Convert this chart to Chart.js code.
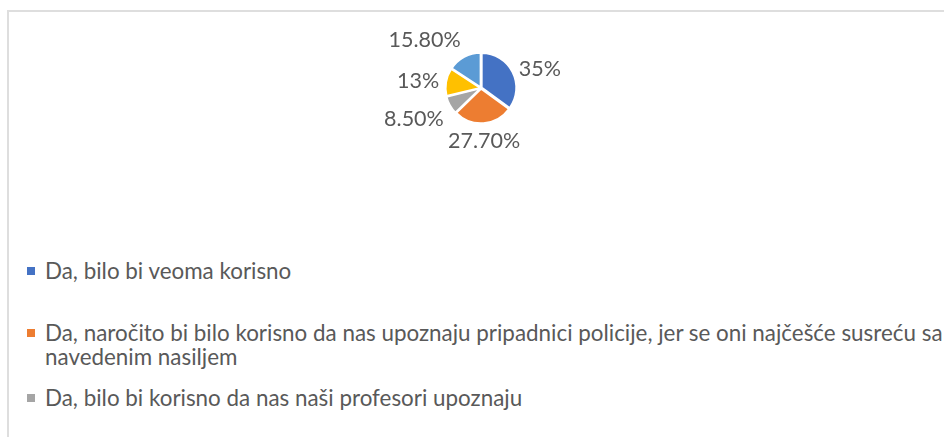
<!DOCTYPE html>
<html>
<head>
<meta charset="utf-8">
<script src="https://cdn.jsdelivr.net/npm/chart.js@4.4.1/dist/chart.umd.min.js"></script>
<style>
  html, body { margin: 0; padding: 0; background: #fff; width: 944px; height: 437px; overflow: hidden; }
  .frame { position: absolute; left: 7px; top: 10px; width: 1200px; height: 800px; border: 2px solid #dedede; box-sizing: border-box; }
  .chart-box { position: absolute; left: 0; top: 0; width: 944px; height: 200px; }
  #legend { position: absolute; left: 27px; top: 259px; margin: 0; padding: 0; list-style: none;
            font-family: Lato, "Noto Sans", sans-serif; font-size: 22.4px; line-height: 24px; color: #595959; }
  #legend li { position: relative; padding-left: 18px; white-space: nowrap; }
  #legend li:nth-child(2) { margin-top: 38px; }
  #legend li:nth-child(3) { margin-top: 17px; }
  #legend li:nth-child(4), #legend li:nth-child(5) { margin-top: 40px; }
  #legend .box { position: absolute; left: 0; top: 8px; width: 8px; height: 8px; }
</style>
</head>
<body>
<div class="frame"></div>
<div class="chart-box"><canvas id="pie"></canvas></div>
<ul id="legend"></ul>

<script>
const categories = [
  'Da, bilo bi veoma korisno',
  ['Da, naročito bi bilo korisno da nas upoznaju pripadnici policije, jer se oni najčešće susreću sa', 'navedenim nasiljem'],
  'Da, bilo bi korisno da nas naši profesori upoznaju',
  'Ne, ne bi bilo korisno',
  'Ne znam'
];
const values = [35, 27.7, 8.5, 13, 15.8];
const colors = ['#4472C4', '#ED7D31', '#A5A5A5', '#FFC000', '#5B9BD5'];

const labelFont = '21.5px Lato, "Noto Sans", sans-serif';

function fmtPct(v) {
  return Number.isInteger(v) ? v + '%' : v.toFixed(2) + '%';
}

// data labels outside each slice (Excel "best fit" look)
const outsideLabels = {
  id: 'outsideLabels',
  afterDatasetsDraw(chart) {
    const ctx = chart.ctx;
    const meta = chart.getDatasetMeta(0);
    ctx.save();
    ctx.font = labelFont;
    ctx.fillStyle = '#595959';
    meta.data.forEach((arc, i) => {
      const p = arc.getProps(['x', 'y', 'startAngle', 'endAngle', 'outerRadius'], true);
      const mid = (p.startAngle + p.endAngle) / 2;
      const ux = Math.cos(mid), uy = Math.sin(mid);
      const r = p.outerRadius + 3 + 5;
      const ax = p.x + ux * r, ay = p.y + uy * r;
      ctx.textAlign = ux > 0.3 ? 'left' : ux < -0.3 ? 'right' : 'center';
      ctx.textBaseline = uy > 0.3 ? 'top' : uy < -0.6 ? 'bottom' : 'middle';
      ctx.fillText(fmtPct(values[i]), ax, ay);
    });
    ctx.restore();
  }
};

new Chart(document.getElementById('pie'), {
  type: 'pie',
  data: {
    labels: categories,
    datasets: [{
      data: values,
      backgroundColor: colors,
      borderColor: '#ffffff',
      borderWidth: 2,
      offset: 3
    }]
  },
  options: {
    responsive: true,
    maintainAspectRatio: false,
    animation: false,
    layout: { padding: { left: 18, right: 0, top: 51, bottom: 75 } },
    plugins: { legend: { display: false }, tooltip: { enabled: false } }
  },
  plugins: [outsideLabels]
});

// legend list built from the same arrays
const legendEl = document.getElementById('legend');
categories.forEach((c, i) => {
  const li = document.createElement('li');
  const box = document.createElement('span');
  box.className = 'box';
  box.style.background = colors[i];
  li.appendChild(box);
  const lines = Array.isArray(c) ? c : [c];
  lines.forEach((t, j) => {
    if (j > 0) li.appendChild(document.createElement('br'));
    li.appendChild(document.createTextNode(t));
  });
  legendEl.appendChild(li);
});
</script>
</body>
</html>
